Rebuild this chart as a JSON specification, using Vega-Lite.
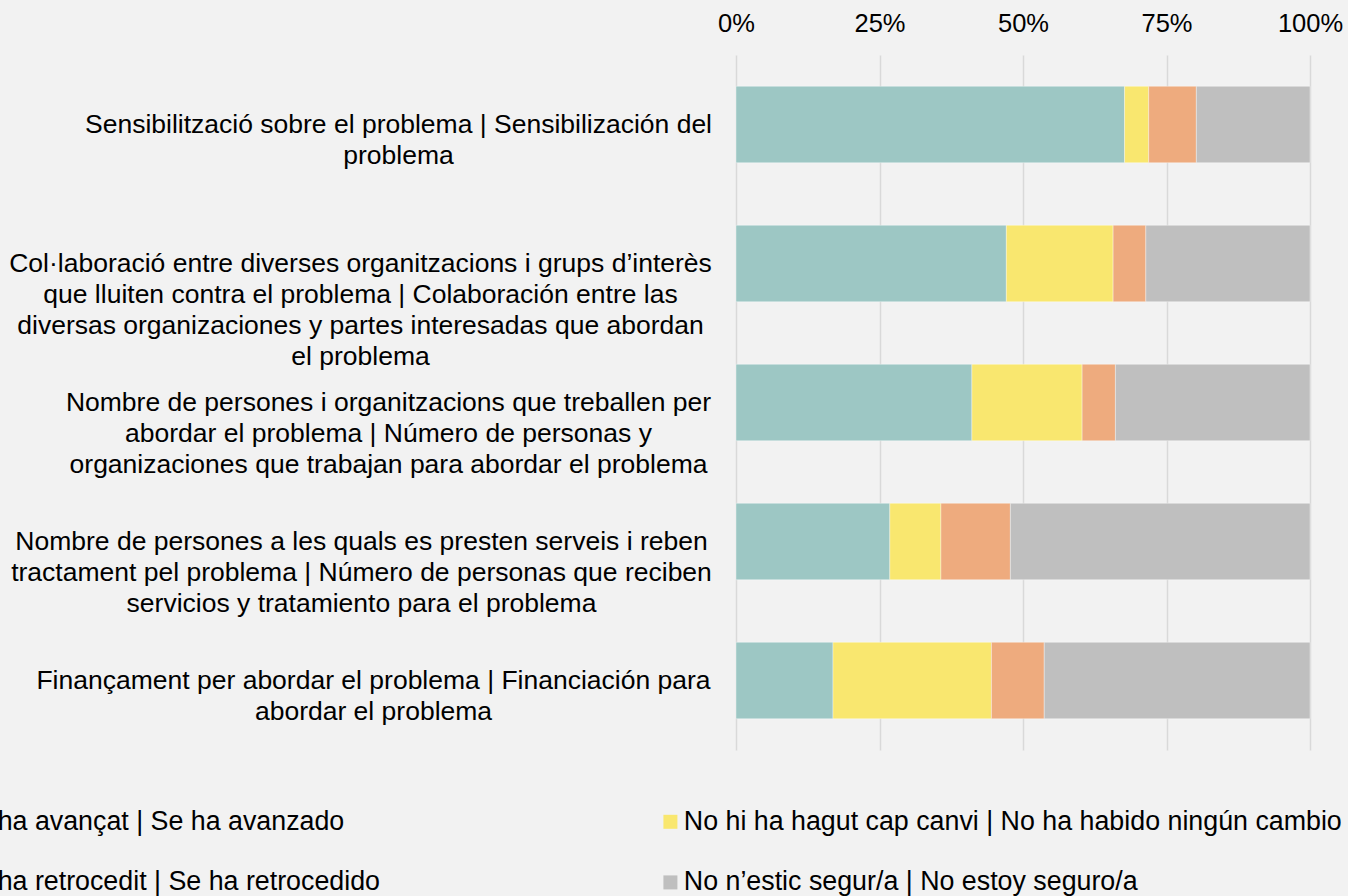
{
  "$schema": "https://vega.github.io/schema/vega-lite/v6.json",
  "width": 574,
  "height": 695,
  "autosize": {"type": "none"},
  "padding": {"left": 736, "top": 55, "right": 38, "bottom": 146},
  "background": "#f2f2f2",
  "config": {
    "view": {"stroke": null},
    "font": "Liberation Sans",
    "text": {"font": "Liberation Sans"}
  },
  "data": {
    "values": [
      {"item": "Sensibilització sobre el problema | Sensibilización del^problema", "resp": "S’ha avançat | Se ha avanzado", "pct": 67.7},
      {"item": "Sensibilització sobre el problema | Sensibilización del^problema", "resp": "No hi ha hagut cap canvi | No ha habido ningún cambio", "pct": 4.2},
      {"item": "Sensibilització sobre el problema | Sensibilización del^problema", "resp": "S’ha retrocedit | Se ha retrocedido", "pct": 8.3},
      {"item": "Sensibilització sobre el problema | Sensibilización del^problema", "resp": "No n’estic segur/a | No estoy seguro/a", "pct": 19.8},
      {"item": "Col·laboració entre diverses organitzacions i grups d’interès^que lluiten contra el problema | Colaboración entre las^diversas organizaciones y partes interesadas que abordan^el problema", "resp": "S’ha avançat | Se ha avanzado", "pct": 47.1},
      {"item": "Col·laboració entre diverses organitzacions i grups d’interès^que lluiten contra el problema | Colaboración entre las^diversas organizaciones y partes interesadas que abordan^el problema", "resp": "No hi ha hagut cap canvi | No ha habido ningún cambio", "pct": 18.6},
      {"item": "Col·laboració entre diverses organitzacions i grups d’interès^que lluiten contra el problema | Colaboración entre las^diversas organizaciones y partes interesadas que abordan^el problema", "resp": "S’ha retrocedit | Se ha retrocedido", "pct": 5.7},
      {"item": "Col·laboració entre diverses organitzacions i grups d’interès^que lluiten contra el problema | Colaboración entre las^diversas organizaciones y partes interesadas que abordan^el problema", "resp": "No n’estic segur/a | No estoy seguro/a", "pct": 28.6},
      {"item": "Nombre de persones i organitzacions que treballen per^abordar el problema | Número de personas y^organizaciones que trabajan para abordar el problema", "resp": "S’ha avançat | Se ha avanzado", "pct": 41.1},
      {"item": "Nombre de persones i organitzacions que treballen per^abordar el problema | Número de personas y^organizaciones que trabajan para abordar el problema", "resp": "No hi ha hagut cap canvi | No ha habido ningún cambio", "pct": 19.2},
      {"item": "Nombre de persones i organitzacions que treballen per^abordar el problema | Número de personas y^organizaciones que trabajan para abordar el problema", "resp": "S’ha retrocedit | Se ha retrocedido", "pct": 5.8},
      {"item": "Nombre de persones i organitzacions que treballen per^abordar el problema | Número de personas y^organizaciones que trabajan para abordar el problema", "resp": "No n’estic segur/a | No estoy seguro/a", "pct": 33.9},
      {"item": "Nombre de persones a les quals es presten serveis i reben^tractament pel problema | Número de personas que reciben^servicios y tratamiento para el problema", "resp": "S’ha avançat | Se ha avanzado", "pct": 26.8},
      {"item": "Nombre de persones a les quals es presten serveis i reben^tractament pel problema | Número de personas que reciben^servicios y tratamiento para el problema", "resp": "No hi ha hagut cap canvi | No ha habido ningún cambio", "pct": 8.9},
      {"item": "Nombre de persones a les quals es presten serveis i reben^tractament pel problema | Número de personas que reciben^servicios y tratamiento para el problema", "resp": "S’ha retrocedit | Se ha retrocedido", "pct": 12.1},
      {"item": "Nombre de persones a les quals es presten serveis i reben^tractament pel problema | Número de personas que reciben^servicios y tratamiento para el problema", "resp": "No n’estic segur/a | No estoy seguro/a", "pct": 52.2},
      {"item": "Finançament per abordar el problema | Financiación para^abordar el problema", "resp": "S’ha avançat | Se ha avanzado", "pct": 16.9},
      {"item": "Finançament per abordar el problema | Financiación para^abordar el problema", "resp": "No hi ha hagut cap canvi | No ha habido ningún cambio", "pct": 27.6},
      {"item": "Finançament per abordar el problema | Financiación para^abordar el problema", "resp": "S’ha retrocedit | Se ha retrocedido", "pct": 9.2},
      {"item": "Finançament per abordar el problema | Financiación para^abordar el problema", "resp": "No n’estic segur/a | No estoy seguro/a", "pct": 46.3}
    ]
  },
  "transform": [
    {"calculate": "indexof(['S’ha avançat | Se ha avanzado','No hi ha hagut cap canvi | No ha habido ningún cambio','S’ha retrocedit | Se ha retrocedido','No n’estic segur/a | No estoy seguro/a'], datum.resp)", "as": "ord"}
  ],
  "mark": {"type": "bar", "stroke": "#ffffff", "strokeWidth": 0.6, "strokeOpacity": 0.6},
  "encoding": {
    "y": {
      "field": "item",
      "type": "nominal",
      "sort": null,
      "scale": {"paddingInner": 0.45, "paddingOuter": 0.225},
      "axis": {
        "title": null,
        "domain": false,
        "ticks": false,
        "tickSize": 0,
        "grid": false,
        "labelLimit": 0,
        "labelFont": "Liberation Sans",
        "labelFontSize": 26.5,
        "labelColor": "#000000",
        "labelAlign": "center",
        "labelBaseline": "middle",
        "labelLineHeight": 31,
        "labelExpr": "split(datum.label, '^')",
        "labelPadding": {
          "condition": [
            {"test": "indexof(datum.value, 'Sensibilit') == 0", "value": 338},
            {"test": "indexof(datum.value, 'Col') == 0", "value": 376},
            {"test": "indexof(datum.value, 'Nombre de persones i') == 0", "value": 348},
            {"test": "indexof(datum.value, 'Nombre de persones a') == 0", "value": 375},
            {"test": "indexof(datum.value, 'Finan') == 0", "value": 363}
          ],
          "value": 350
        }
      }
    },
    "x": {
      "field": "pct",
      "type": "quantitative",
      "stack": "normalize",
      "axis": {
        "orient": "top",
        "title": null,
        "values": [0, 0.25, 0.5, 0.75, 1],
        "format": ".0%",
        "domain": false,
        "ticks": false,
        "tickSize": 0,
        "grid": true,
        "gridColor": "#d9d9d9",
        "gridWidth": 1.5,
        "labelFlush": false,
        "labelFont": "Liberation Sans",
        "labelFontSize": 25.5,
        "labelColor": "#000000",
        "labelPadding": 19
      }
    },
    "color": {
      "field": "resp",
      "type": "nominal",
      "scale": {
        "domain": ["S’ha avançat | Se ha avanzado", "No hi ha hagut cap canvi | No ha habido ningún cambio", "S’ha retrocedit | Se ha retrocedido", "No n’estic segur/a | No estoy seguro/a"],
        "range": ["#9dc7c4", "#f9e76f", "#eeab7e", "#bfbfbf"]
      },
      "legend": {
        "title": null,
        "orient": "none",
        "direction": "horizontal",
        "legendX": -789,
        "legendY": 753,
        "columns": 2,
        "symbolType": "square",
        "symbolSize": 196,
        "symbolStrokeWidth": 0,
        "labelFont": "Liberation Sans",
        "labelFontSize": 26.8,
        "labelColor": "#000000",
        "labelLimit": 0,
        "labelOffset": 0,
        "columnPadding": 277,
        "rowPadding": 33
      }
    },
    "order": {"field": "ord", "type": "quantitative"}
  }
}
